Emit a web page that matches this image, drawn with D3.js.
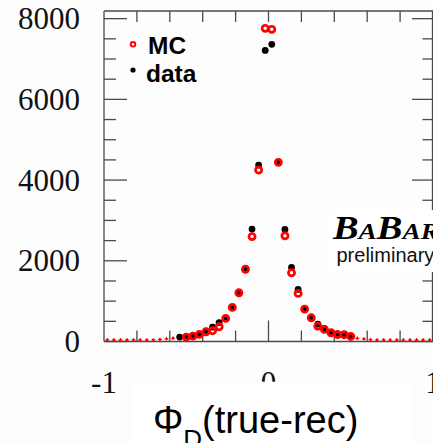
<!DOCTYPE html>
<html>
<head>
<meta charset="utf-8">
<script src="https://cdn.jsdelivr.net/npm/d3@7"></script>
<style>
  html, body { margin: 0; padding: 0; background: #fdfdfd; }
  svg { display: block; }
</style>
</head>
<body>
<svg id="chart" width="433" height="443"></svg>
<script>
// Phi_D resolution (true - reconstructed): MC vs data, bins of 0.04
const mcBins   = [-0.50,-0.46,-0.42,-0.38,-0.34,-0.30,-0.26,-0.22,-0.18,-0.14,-0.10,-0.06,-0.02,
                   0.02, 0.06, 0.10, 0.14, 0.18, 0.22, 0.26, 0.30, 0.34, 0.38, 0.42, 0.46, 0.50];
const mcValues = [ 109,  134,  176,  240,  268,  365,  572,  845, 1207, 1790, 2600, 4250, 7760,
                  7735, 4440, 2620, 1703, 1192,  803,  587,  382,  300,  216,  172,  168,  125];

const dataBins   = [-0.54,-0.50,-0.46,-0.42,-0.38,-0.34,-0.30,-0.26,-0.22,-0.18,-0.14,-0.10,-0.06,-0.02,
                     0.02, 0.06, 0.10, 0.14, 0.18, 0.22, 0.26, 0.30, 0.34, 0.38, 0.42, 0.46, 0.50];
const dataValues = [ 110,  115,  140,  180,  255,  355,  470,  580,  845, 1215, 1800, 2786, 4372, 7214,
                    7363, 4450, 2778, 1836, 1291,  810,  590,  431,  320,  225,  176,  170,  128];

// low-statistics MC tail bins
const tailBins   = [-0.98,-0.94,-0.90,-0.86,-0.82,-0.78,-0.74,-0.70,-0.66,-0.62,-0.58,
                     0.54, 0.58, 0.62, 0.66, 0.70, 0.74, 0.78, 0.82, 0.86, 0.90, 0.94, 0.98];
const tailValues = [  10,   10,   15,   17,   30,   18,   32,   35,   50,   65,   80,
                      78,   62,   45,   35,   25,   22,   20,   18,   15,   12,   12,   10];

const yMajorTicks = [0, 2000, 4000, 6000, 8000];
const yTickLabels = ["0", "2000", "4000", "6000", "8000"];
const xMinorTicks = [-0.8, -0.6, -0.4, -0.2, 0.2, 0.4, 0.6, 0.8];
const xMajorTicks = [0];
const xTickLabels = [{v: -1, t: "-1"}, {v: 0, t: "0"}, {v: 1, t: "1"}];

const svg = d3.select("#chart");
const plotL = 104, plotR = 433, plotT = 11, plotB = 341.5;

const x = d3.scaleLinear().domain([-1, 1]).range([plotL, plotR]);
const y = d3.scaleLinear().domain([0, 8190]).range([plotB, plotT]);

const axisColor = "#4a4a4a";
const serif = "'Liberation Serif', 'Times New Roman', serif";
const sans = "'Liberation Sans', Arial, sans-serif";

// frame
const frame = svg.append("g").attr("stroke", axisColor).attr("stroke-width", 1.3).attr("fill", "none");
frame.append("line").attr("x1", plotL).attr("x2", plotL).attr("y1", plotT).attr("y2", plotB);
frame.append("line").attr("x1", plotL).attr("x2", plotR).attr("y1", plotB).attr("y2", plotB);
frame.append("line").attr("x1", plotL).attr("x2", plotR).attr("y1", plotT).attr("y2", plotT);
frame.append("line").attr("x1", plotR - 0.5).attr("x2", plotR - 0.5).attr("y1", plotT).attr("y2", plotB);

// y ticks: majors every 2000, minors every 500, on both sides
const yMinor = d3.range(0, 8001, 500).filter(v => v % 2000 !== 0);
const tk = svg.append("g").attr("stroke", axisColor).attr("stroke-width", 1.3);
yMajorTicks.forEach(v => {
  tk.append("line").attr("x1", plotL).attr("x2", plotL + 23).attr("y1", y(v)).attr("y2", y(v));
  tk.append("line").attr("x1", plotR).attr("x2", plotR - 21).attr("y1", y(v)).attr("y2", y(v));
});
yMinor.forEach(v => {
  tk.append("line").attr("x1", plotL).attr("x2", plotL + 12).attr("y1", y(v)).attr("y2", y(v));
  tk.append("line").attr("x1", plotR).attr("x2", plotR - 10.5).attr("y1", y(v)).attr("y2", y(v));
});
// x ticks: bottom and top
xMinorTicks.forEach(v => {
  tk.append("line").attr("x1", x(v)).attr("x2", x(v)).attr("y1", plotB).attr("y2", plotB - 11);
  tk.append("line").attr("x1", x(v)).attr("x2", x(v)).attr("y1", plotT).attr("y2", plotT + 11);
});
xMajorTicks.forEach(v => {
  tk.append("line").attr("x1", x(v)).attr("x2", x(v)).attr("y1", plotB).attr("y2", plotB - 21);
  tk.append("line").attr("x1", x(v)).attr("x2", x(v)).attr("y1", plotT).attr("y2", plotT + 11);
});

// y tick labels
svg.append("g").selectAll("text").data(yMajorTicks).join("text")
  .attr("x", 80).attr("y", d => y(d) + 10.5)
  .attr("text-anchor", "end")
  .attr("font-family", serif).attr("font-size", 31).attr("fill", "#111")
  .text((d, i) => yTickLabels[i]);

// x tick labels
svg.append("g").selectAll("text").data(xTickLabels).join("text")
  .attr("x", d => x(d.v)).attr("y", 393)
  .attr("text-anchor", "middle")
  .attr("font-family", serif).attr("font-size", 31).attr("fill", "#111")
  .text(d => d.t);

// MC tail markers
const tail = svg.append("g").attr("stroke", "#ff0000").attr("fill", "#ff0000").attr("stroke-width", 1);
tailBins.forEach((b, i) => {
  const cx = x(b), cy = Math.min(y(tailValues[i]), plotB - 1.5);
  tail.append("line").attr("x1", cx - 2).attr("x2", cx + 2).attr("y1", cy).attr("y2", cy);
  tail.append("line").attr("x1", cx).attr("x2", cx).attr("y1", cy - 2).attr("y2", cy + 1.5);
  tail.append("circle").attr("cx", cx).attr("cy", cy).attr("r", 1.2).attr("stroke", "none");
});

// data points
svg.append("g").selectAll("circle").data(dataBins).join("circle")
  .attr("cx", d => x(d)).attr("cy", (d, i) => y(dataValues[i]))
  .attr("r", 3.4).attr("fill", "#000");

// MC points (open circles)
svg.append("g").selectAll("circle").data(mcBins).join("circle")
  .attr("cx", d => x(d)).attr("cy", (d, i) => y(mcValues[i]))
  .attr("r", 3.1).attr("fill", "none").attr("stroke", "#ff0000").attr("stroke-width", 2.7);

// legend
svg.append("circle").attr("cx", 133).attr("cy", 44.3).attr("r", 2.3)
  .attr("fill", "none").attr("stroke", "#ff0000").attr("stroke-width", 1.9);
svg.append("circle").attr("cx", 133).attr("cy", 70).attr("r", 2.6).attr("fill", "#000");
svg.append("text").attr("x", 148).attr("y", 54).attr("font-family", sans)
  .attr("font-weight", "bold").attr("font-size", 24.5).attr("fill", "#000").text("MC");
svg.append("text").attr("x", 146).attr("y", 81.5).attr("font-family", sans)
  .attr("font-weight", "bold").attr("font-size", 24.5).attr("fill", "#000").text("data");

// BaBar label on a white panel
svg.append("rect").attr("x", 330).attr("y", 210).attr("width", 103).attr("height", 62).attr("fill", "#ffffff");
const bb = svg.append("text").attr("x", 333).attr("y", 238.5)
  .attr("textLength", 106).attr("lengthAdjust", "spacingAndGlyphs")
  .attr("font-family", serif).attr("font-style", "italic").attr("font-weight", "bold").attr("fill", "#000");
bb.append("tspan").attr("font-size", 33).text("B");
bb.append("tspan").attr("font-size", 23.5).text("A");
bb.append("tspan").attr("font-size", 33).text("B");
bb.append("tspan").attr("font-size", 23.5).text("AR");
svg.append("text").attr("x", 336.5).attr("y", 261.5).attr("font-family", sans)
  .attr("font-size", 20).attr("fill", "#111").text("preliminary");

// x-axis title on a white panel
svg.append("rect").attr("x", 131.7).attr("y", 381.7).attr("width", 280).attr("height", 62).attr("fill", "#ffffff");
const title = svg.append("text").attr("x", 153).attr("y", 433)
  .attr("font-family", sans).attr("font-size", 38).attr("fill", "#000");
title.append("tspan").text("Φ");
title.append("tspan").attr("font-size", 26).attr("dy", 15).text("D");
title.append("tspan").attr("dy", -15).text("(true-rec)");
</script>
</body>
</html>
